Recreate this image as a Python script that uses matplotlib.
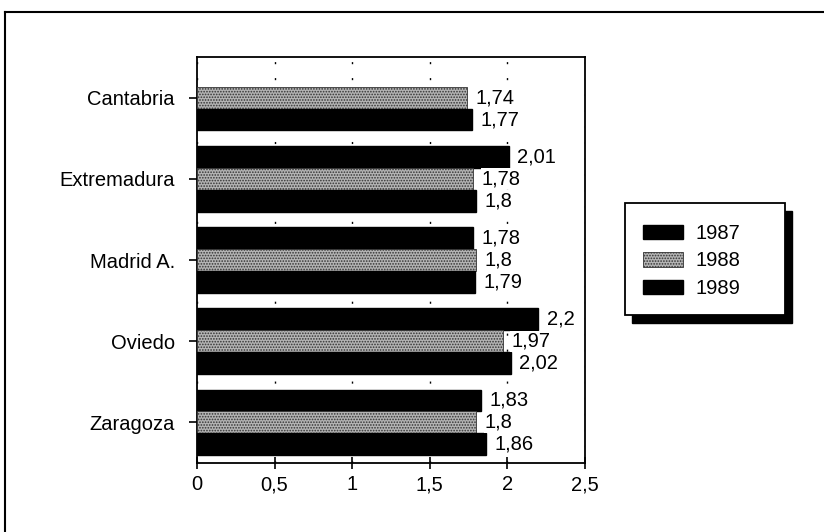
import numpy as np
import matplotlib
matplotlib.use("Agg")
import matplotlib.pyplot as plt
from matplotlib.lines import Line2D
from matplotlib.patches import Rectangle

plt.rcParams['font.family'] = ['Liberation Sans', 'DejaVu Sans']
plt.rcParams['hatch.linewidth'] = 0.8

categories = ['Cantabria', 'Extremadura', 'Madrid A.', 'Oviedo', 'Zaragoza']
series_names = ['1987', '1988', '1989']
v1987 = [np.nan, 2.01, 1.78, 2.2, 1.83]
v1988 = [1.74, 1.78, 1.8, 1.97, 1.8]
v1989 = [1.77, 1.8, 1.79, 2.02, 1.86]
xticks = [0, 0.5, 1, 1.5, 2, 2.5]
xtick_labels = ['0', '0,5', '1', '1,5', '2', '2,5']

FS = 14.5
W, H = 824, 532
fig = plt.figure(figsize=(W/100, H/100), dpi=100)
ax = fig.add_axes([197/W, 1-463/H, 388/W, 406/H])

y = np.arange(len(categories))
h = 0.27
styles = [
    dict(color='black', edgecolor='black'),
    dict(facecolor='#b4b4b4', edgecolor='#333333', hatch='......', linewidth=0.6),
    dict(color='black', edgecolor='black'),
]
handles = []
for k, vals in enumerate([v1987, v1988, v1989]):
    pos = y + (k - 1) * h
    bars = ax.barh(pos, vals, height=h, zorder=3, label=series_names[k], **styles[k])
    handles.append(bars)
    for p, v in zip(pos, vals):
        if np.isnan(v):
            continue
        txt = ('%g' % v).replace('.', ',')
        ax.text(v + 0.055, p, txt, va='center', ha='left', fontsize=FS, zorder=4,
                bbox=dict(boxstyle='square,pad=0.05', facecolor='white', edgecolor='none'))

ax.set_ylim(len(categories) - 0.5, -0.5)
ax.set_xlim(0, 2.5)
ax.set_yticks(y)
ax.set_yticklabels(categories, fontsize=FS)
ax.set_xticks(xticks)
ax.set_xticklabels(xtick_labels, fontsize=FS)
ax.tick_params(axis='y', length=6, width=1.2, pad=10)
ax.tick_params(axis='x', direction='inout', length=8, width=1.2, pad=5)
for s in ax.spines.values():
    s.set_linewidth(1.3)
ax.grid(axis='x', linestyle=(0, (1.5, 10)), color='black', linewidth=1, zorder=0)
ax.set_axisbelow(True)

# outer frame (top and left edges)
fig.add_artist(Line2D([5/W, 1], [1-12/H, 1-12/H], color='black', lw=1.5))
fig.add_artist(Line2D([5/W, 5/W], [0, 1-12/H], color='black', lw=1.5))

# legend box with offset shadow
bx0, by0, bx1, by1 = 625, 203, 785, 315
bw, bh = (bx1 - bx0)/W, (by1 - by0)/H
fig.add_artist(Rectangle(((bx0 + 7)/W, 1-(by1 + 8)/H), bw, bh,
                         transform=fig.transFigure, facecolor='black',
                         edgecolor='black', zorder=8))
fig.add_artist(Rectangle((bx0/W, 1-by1/H), bw, bh,
                         transform=fig.transFigure, facecolor='white',
                         edgecolor='black', linewidth=1.3, zorder=9))

leg = fig.legend(handles=handles, labels=series_names, loc='upper left',
                 bbox_to_anchor=(643/W, 1-224/H), fontsize=FS,
                 frameon=False,
                 handlelength=2.0, handleheight=0.75, handletextpad=0.6,
                 labelspacing=0.42, borderpad=0, borderaxespad=0)
leg.set_zorder(10)

fig.savefig('out.png', dpi=100)
